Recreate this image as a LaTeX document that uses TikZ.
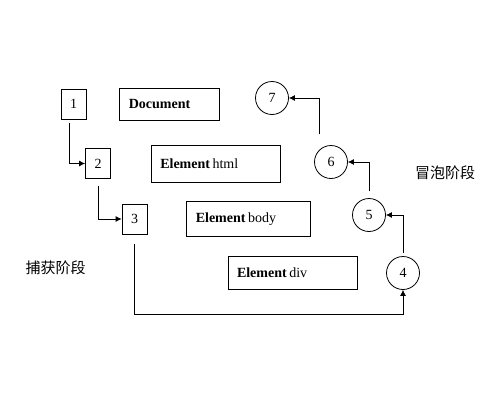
\documentclass[tikz,border=0pt]{standalone}
\usepackage{fontspec}
\setmainfont{Liberation Serif}
\newfontfamily\cjk{Noto Sans CJK SC}
\usepackage{tikz}
\usetikzlibrary{arrows.meta}
\usetikzlibrary{positioning}

\begin{document}
\begin{tikzpicture}[x=1pt,y=1pt,>={Latex[length=6pt,width=6pt]},line width=0.8pt,
    numbox/.style={draw, rectangle, minimum width=25pt, minimum height=30pt, inner sep=0pt, font=\fontsize{14}{16}\selectfont},
    elembox/.style={draw, rectangle, align=left, inner xsep=9pt, inner ysep=0pt, font=\fontsize{14}{16}\selectfont},
    stepcircle/.style={draw, circle, minimum size=33pt, inner sep=0pt, font=\fontsize{14}{16}\selectfont},
    phase/.style={font=\cjk\fontsize{15}{18}\selectfont}]

    \useasboundingbox (0,0) rectangle (500,400);

    % Capture boxes
    \node [numbox] (box1) at (73.5,296) {1};
    \node [numbox] (box2) at (98,236.5) {2};
    \node [numbox] (box3) at (134.5,181) {3};

    % Element boxes
    \node [elembox, right=33pt of box1, text width=82pt, minimum height=32pt] (doc) {\textbf{Document}};
    \node [elembox, right=40pt of box2, text width=111pt, minimum height=37pt] (html) {\textbf{Element}\kern2.5pt html};
    \node [elembox, right=39pt of box3, text width=106pt, minimum height=35pt] (body) {\textbf{Element}\kern2.5pt body};
    \node [elembox, text width=111pt, minimum height=33pt] (div) at (292.5,127.5) {\textbf{Element}\kern2.5pt div};

    % Bubble circles
    \node [stepcircle] (c4) at (403,127) {4};
    \node [stepcircle] (c5) at (369,185) {5};
    \node [stepcircle] (c6) at (331,238) {6};
    \node [stepcircle] (c7) at (272,302) {7};

    % Phase labels
    \node [phase] (capture) at (55.5,132) {捕获阶段};
    \node [phase] (bubble) at (445,227) {冒泡阶段};

    % Connections
    \draw [->, shorten <=4pt] ([xshift=-4.5pt]box1.south) |- (box2);
    \draw [->, shorten <=7pt] (box2.south) |- (box3);
    \coordinate [below=24pt of c4.south] (turn);
    \draw [->, shorten <=10pt] (box3.south) |- (turn) -- (c4.south);
    \draw [->, shorten <=3pt] (c4.north) |- (c5);
    \draw [->, shorten <=7pt] (c5.north) |- (c6);
    \draw [->, shorten <=11pt] ([xshift=-12pt]c6.north) |- (c7);

\end{tikzpicture}
\end{document}
